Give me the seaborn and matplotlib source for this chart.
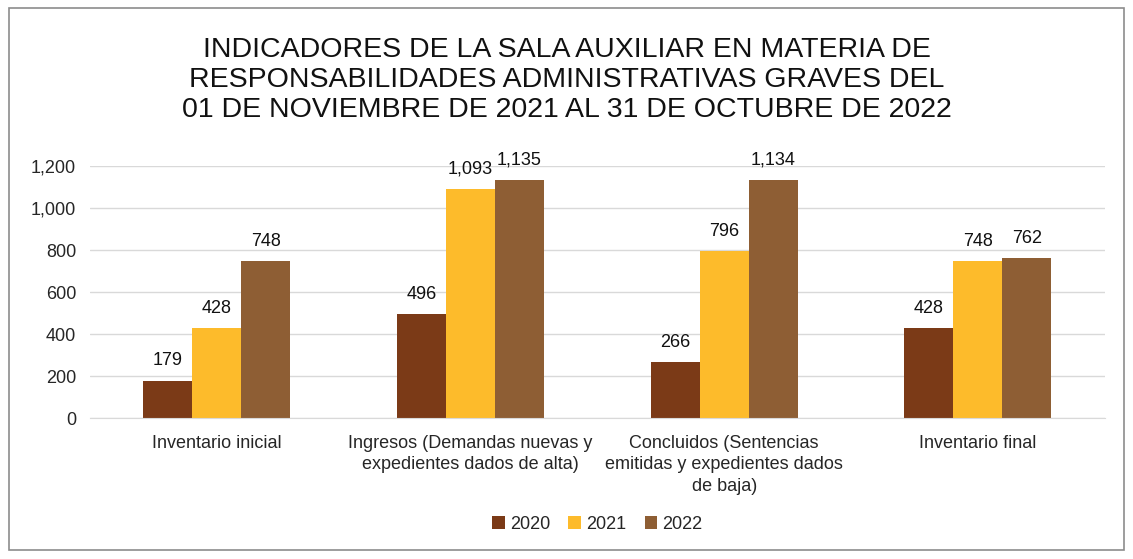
import matplotlib.pyplot as plt
import seaborn as sns
import pandas as pd
from matplotlib.patches import Rectangle

categorias = ['Inventario inicial',
              'Ingresos (Demandas nuevas y\nexpedientes dados de alta)',
              'Concluidos (Sentencias\nemitidas y expedientes dados\nde baja)',
              'Inventario final']
anios = ['2020', '2021', '2022']
v2020 = [179, 496, 266, 428]
v2021 = [428, 1093, 796, 748]
v2022 = [748, 1135, 1134, 762]
colores = ['#7B3A17', '#FDBB2B', '#8E5E34']

df = pd.DataFrame({
    'Categoria': categorias * 3,
    'Anio': [a for a in anios for _ in categorias],
    'Valor': v2020 + v2021 + v2022,
})

sns.set_style('white')
plt.rcParams['font.family'] = ['Liberation Sans', 'DejaVu Sans']

fig = plt.figure(figsize=(11.33, 5.59), dpi=100)
ax = fig.add_axes([0.0794, 0.252, 0.8956, 0.451])

sns.barplot(data=df, x='Categoria', y='Valor', hue='Anio', palette=colores,
            width=0.58, gap=0, saturation=1, linewidth=0, ax=ax, legend=True)

for cont in ax.containers:
    ax.bar_label(cont, labels=[f'{v:,.0f}' for v in cont.datavalues],
                 padding=8, fontsize=13, color='#111111')

ax.set_ylim(0, 1200)
ax.set_yticks(range(0, 1201, 200))
ax.set_yticklabels([f'{t:,}' for t in range(0, 1201, 200)], fontsize=13)
ax.tick_params(axis='x', labelsize=13, length=0, pad=12)
ax.tick_params(axis='y', length=0, pad=10)
for lbl in ax.get_xticklabels():
    lbl.set_linespacing(1.35)
ax.grid(axis='y', color='#D9D9D9', linewidth=1)
ax.set_axisbelow(True)
ax.set_xlabel('')
ax.set_ylabel('')
for s in ['top', 'right', 'left']:
    ax.spines[s].set_visible(False)
ax.spines['bottom'].set_color('#D9D9D9')

ax.legend(loc='center', bbox_to_anchor=(0.5, -0.42), ncol=3, frameon=False,
          fontsize=13, handlelength=0.7, handleheight=0.7, handletextpad=0.3,
          columnspacing=1.0)

fig.text(0.5, 0.857, 'INDICADORES DE LA SALA AUXILIAR EN MATERIA DE\n'
         'RESPONSABILIDADES ADMINISTRATIVAS GRAVES DEL\n'
         '01 DE NOVIEMBRE DE 2021 AL 31 DE OCTUBRE DE 2022',
         ha='center', va='center', fontsize=20.5, linespacing=1.2, color='#111111')

fig.patches.append(Rectangle((0.008, 0.016), 0.984, 0.97, transform=fig.transFigure,
                             fill=False, edgecolor='#8C8C8C', linewidth=1.2))

plt.savefig('out.png', dpi=100)
